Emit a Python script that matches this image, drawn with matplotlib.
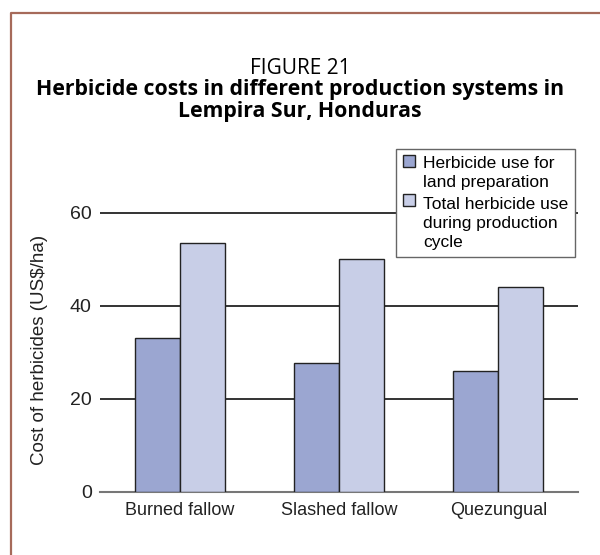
import numpy as np
import matplotlib
matplotlib.use("Agg")
import matplotlib.pyplot as plt
from matplotlib.lines import Line2D

# Data
systems = ["Burned fallow", "Slashed fallow", "Quezungual"]
land_prep = [33.0, 27.7, 25.9]
total_cycle = [53.6, 50.0, 44.0]
series_labels = ["Herbicide use for\nland preparation",
                 "Total herbicide use\nduring production\ncycle"]
y_ticks = [0, 20, 40, 60]

COLORS = {"prep": "#9ba6d1", "total": "#c8cee7", "frame": "#a66a5a"}
AX_FONT = ["Liberation Sans", "DejaVu Sans"]
TITLE_FONT = ["Open Sans", "DejaVu Sans"]

fig = plt.figure(figsize=(6.0, 5.55), dpi=100)
ax = fig.add_axes([100 / 600, 1 - 492 / 555, 478 / 600, 0.545])

x = np.arange(len(systems))
w = 0.283
ax.bar(x - w / 2, land_prep, w, color=COLORS["prep"], edgecolor="#222222",
       linewidth=1.0, zorder=3, label=series_labels[0])
ax.bar(x + w / 2, total_cycle, w, color=COLORS["total"], edgecolor="#222222",
       linewidth=1.0, zorder=3, label=series_labels[1])

ax.set_xlim(-0.5, 2.5)
ax.set_ylim(0, 65)
ax.set_yticks(y_ticks)
for t in y_ticks[1:]:
    ax.axhline(t, color="#111111", lw=1.2, zorder=1)

for s in ["top", "right", "left"]:
    ax.spines[s].set_visible(False)
ax.spines["bottom"].set_color("#777777")
ax.spines["bottom"].set_linewidth(1.5)
ax.tick_params(axis="x", length=0, pad=7, labelsize=13, labelcolor="#222222")
ax.tick_params(axis="y", length=0, pad=6, labelsize=14, labelcolor="#222222")
ax.set_xticks(x)
ax.set_xticklabels(systems)
for lab in ax.get_xticklabels() + ax.get_yticklabels():
    lab.set_family(AX_FONT)
ax.set_ylabel("Cost of herbicides (US\\$/ha)", fontsize=13.5, family=AX_FONT,
              color="#222222")
ax.yaxis.set_label_coords(-0.108, 0.47)

fs = 12.5
leg = fig.legend(loc="upper left", bbox_to_anchor=(396 / 600, 1 - 149 / 555),
                 borderaxespad=0, frameon=True, fancybox=False, framealpha=1,
                 edgecolor="#666666", handlelength=0.7, handleheight=0.7,
                 handletextpad=0.45, labelspacing=0.4, borderpad=0.4,
                 prop={"family": AX_FONT, "size": fs})
leg.get_frame().set_linewidth(1.0)
leg.set_zorder(5)
for txt in leg.get_texts():
    txt.set_linespacing(1.35)
# move each handle up to sit beside the first line of its label
line_pt = fs * 1.35
for patch, label in zip(leg.get_patches(), series_labels):
    n = label.count("\n") + 1
    patch.set_y(patch.get_y() + (n - 1) * line_pt / 2)

fig.text(0.5, 1 - 68 / 555, "FIGURE 21", ha="center", va="center",
         fontsize=15, family=TITLE_FONT)
fig.text(0.5, 1 - 90 / 555,
         "Herbicide costs in different production systems in",
         ha="center", va="center", fontsize=15.3, fontweight="bold",
         family=TITLE_FONT)
fig.text(0.5, 1 - 112 / 555, "Lempira Sur, Honduras",
         ha="center", va="center", fontsize=15.3, fontweight="bold",
         family=TITLE_FONT)

# brown frame, top and left edges only
fig.add_artist(Line2D([10.5 / 600, 10.5 / 600, 1.0], [0, 1 - 12.5 / 555, 1 - 12.5 / 555],
                      transform=fig.transFigure, color=COLORS["frame"], lw=1.6))

fig.savefig("out.png", dpi=100)
